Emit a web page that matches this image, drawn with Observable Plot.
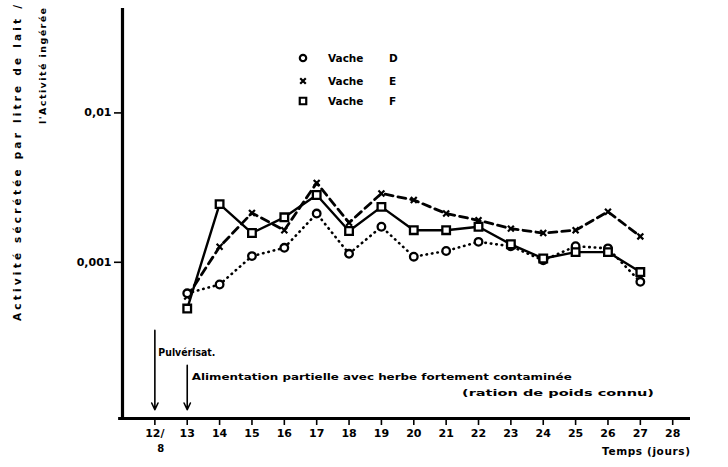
<!DOCTYPE html>
<html><head><meta charset="utf-8">
<script src="https://cdn.jsdelivr.net/npm/d3@7"></script>
<script src="https://cdn.jsdelivr.net/npm/@observablehq/plot@0.6"></script>
<style>
body{margin:0;background:#fff}
#wrap{width:728px;height:467px}
</style></head>
<body><div id="wrap"></div>
<script>
// ---- data ----
const days   = [13, 14, 15, 16, 17, 18, 19, 20, 21, 22, 23, 24, 25, 26, 27];
const vacheD = [6.2e-4, 7.1e-4, 1.10e-3, 1.25e-3, 2.12e-3, 1.14e-3, 1.73e-3, 1.09e-3, 1.19e-3, 1.37e-3, 1.28e-3, 1.03e-3, 1.28e-3, 1.24e-3, 7.4e-4];
const vacheE = [5.9e-4, 1.27e-3, 2.14e-3, 1.64e-3, 3.40e-3, 1.84e-3, 2.89e-3, 2.61e-3, 2.12e-3, 1.91e-3, 1.68e-3, 1.57e-3, 1.64e-3, 2.18e-3, 1.49e-3];
const vacheF = [4.9e-4, 2.45e-3, 1.57e-3, 2.00e-3, 2.82e-3, 1.62e-3, 2.35e-3, 1.64e-3, 1.64e-3, 1.73e-3, 1.32e-3, 1.06e-3, 1.17e-3, 1.17e-3, 8.6e-4];
const seriesNames = ["Vache  D", "Vache  E", "Vache  F"];
const seriesLetters = ["D", "E", "F"];
const xTicks = [12, 13, 14, 15, 16, 17, 18, 19, 20, 21, 22, 23, 24, 25, 26, 27, 28];
const firstTickSub = "8";
const yTicks = [0.01, 0.001];
const yTickLabels = ["0,01", "0,001"];
const eventDays = [12, 13];
const eventTops = [3.5e-4, 2.04e-4];
const eventLabels = ["Pulvérisat.", "Alimentation partielle avec herbe fortement contaminée"];
const eventNote = "(ration de poids connu)";
const yTitle1 = "Activité sécrétée par litre de lait /";
const yTitle2 = "l'Activité ingérée";
const xTitle = "Temps (jours)";

// ---- build table ----
const allSeries = [vacheD, vacheE, vacheF];
const rows = [];
allSeries.forEach((vals, k) => days.forEach((d, i) => rows.push({day: d, v: vals[i], s: seriesNames[k]})));
const events = eventDays.map((d, i) => ({day: d, top: eventTops[i], label: eventLabels[i]}));
const yMin = 9e-5, yMax = 0.05, xMin = 11, xMax = 28.55;
const rowsOf = k => rows.filter(r => r.s === seriesNames[k]);

const font = "'DejaVu Sans', sans-serif";
const chart = Plot.plot({
  width: 728, height: 467,
  marginLeft: 122, marginRight: 38, marginTop: 8, marginBottom: 49,
  style: {fontFamily: font, fontWeight: "bold", fontSize: "10.5px", background: "white", color: "black"},
  x: {domain: [xMin, xMax], axis: null},
  y: {type: "log", domain: [yMin, yMax], axis: null},
  symbol: {domain: seriesNames, range: ["circle", "times", "square"]},
  marks: [
    Plot.axisX(xTicks, {tickSize: 7, tickPadding: 4, strokeWidth: 1.6, label: null,
      tickFormat: d => d === 12 ? "12/" : String(d), fontWeight: "bold", fontSize: 11}),
    Plot.axisY(yTicks, {tickSize: 8, tickPadding: 3, strokeWidth: 1.6, label: null,
      tickFormat: d => yTickLabels[yTicks.indexOf(d)], fontWeight: "bold", fontSize: 11}),
    Plot.ruleX([xMin], {strokeWidth: 3.2}),
    Plot.ruleY([yMin], {x1: 10.88, x2: xMax, strokeWidth: 3.2}),
    Plot.arrow(events, {x1: "day", x2: "day", y1: "top", y2: 1.03e-4, strokeWidth: 1.6, headLength: 7, headAngle: 50}),
    Plot.line(rowsOf(0), {x: "day", y: "v", stroke: "black", strokeWidth: 2.6, strokeDasharray: "0.5,5", strokeLinecap: "round"}),
    Plot.line(rowsOf(1), {x: "day", y: "v", stroke: "black", strokeWidth: 2.8, strokeDasharray: "8,5"}),
    Plot.line(rowsOf(2), {x: "day", y: "v", stroke: "black", strokeWidth: 2.4}),
    Plot.dot(rowsOf(1), {x: "day", y: "v", symbol: "s", r: 2.8, stroke: "black", strokeWidth: 2.2, fill: "white"}),
    Plot.dot(rowsOf(0), {x: "day", y: "v", symbol: "s", r: 3.8, stroke: "black", strokeWidth: 2.3, fill: "white"}),
    Plot.dot(rowsOf(2), {x: "day", y: "v", symbol: "s", r: 4.3, stroke: "black", strokeWidth: 2.3, fill: "white"})
  ]
});
document.getElementById("wrap").appendChild(chart);

// ---- annotations & labels ----
const sx = chart.scale("x"), sy = chart.scale("y");
const svg = d3.select(chart);
const g = svg.append("g").attr("font-family", font).attr("font-weight", "bold")
  .attr("fill", "black").attr("text-anchor", "start");

// subscript of the first tick ("12/8")
g.append("text").attr("x", sx.apply(xTicks[0]) + 3).attr("y", 452).attr("font-size", 10).text(firstTickSub);

// y title (two rotated lines)
g.append("text").attr("transform", "translate(21,163) rotate(-90)")
  .attr("text-anchor", "middle").attr("font-size", 10.5)
  .attr("textLength", 316).attr("lengthAdjust", "spacing").text(yTitle1);
g.append("text").attr("transform", "translate(46,8) rotate(-90)")
  .attr("text-anchor", "end").attr("font-size", 9.5)
  .attr("textLength", 116).attr("lengthAdjust", "spacing").text(yTitle2);

// event labels
g.append("text").attr("x", sx.apply(eventDays[0]) + 4).attr("y", 356).attr("font-size", 10)
  .attr("textLength", 57).attr("lengthAdjust", "spacingAndGlyphs").text(eventLabels[0]);
g.append("text").attr("x", sx.apply(eventDays[1]) + 5).attr("y", 380).attr("font-size", 9.5)
  .attr("textLength", 380).attr("lengthAdjust", "spacingAndGlyphs").text(eventLabels[1]);
g.append("text").attr("x", 462).attr("y", 396).attr("font-size", 9.5)
  .attr("textLength", 192).attr("lengthAdjust", "spacingAndGlyphs").text(eventNote);

// x title
g.append("text").attr("x", 690).attr("y", 455).attr("text-anchor", "end").attr("font-size", 10.5)
  .attr("textLength", 88).attr("lengthAdjust", "spacing").text(xTitle);

// legend
const sym = chart.scale("symbol");
const legY = [58, 81, 101];
const legSize = [32, 22, 42];
seriesNames.forEach((name, i) => {
  const row = g.append("g").attr("transform", `translate(303,${legY[i]})`);
  row.append("path").attr("d", d3.symbol(sym.apply(name), legSize[i])())
    .attr("fill", "white").attr("stroke", "black").attr("stroke-width", 2.2);
  row.append("text").attr("x", 25).attr("y", 4).attr("font-size", 10.5).text("Vache");
  row.append("text").attr("x", 86).attr("y", 4).attr("font-size", 10.5).text(seriesLetters[i]);
});
</script>
</body></html>
